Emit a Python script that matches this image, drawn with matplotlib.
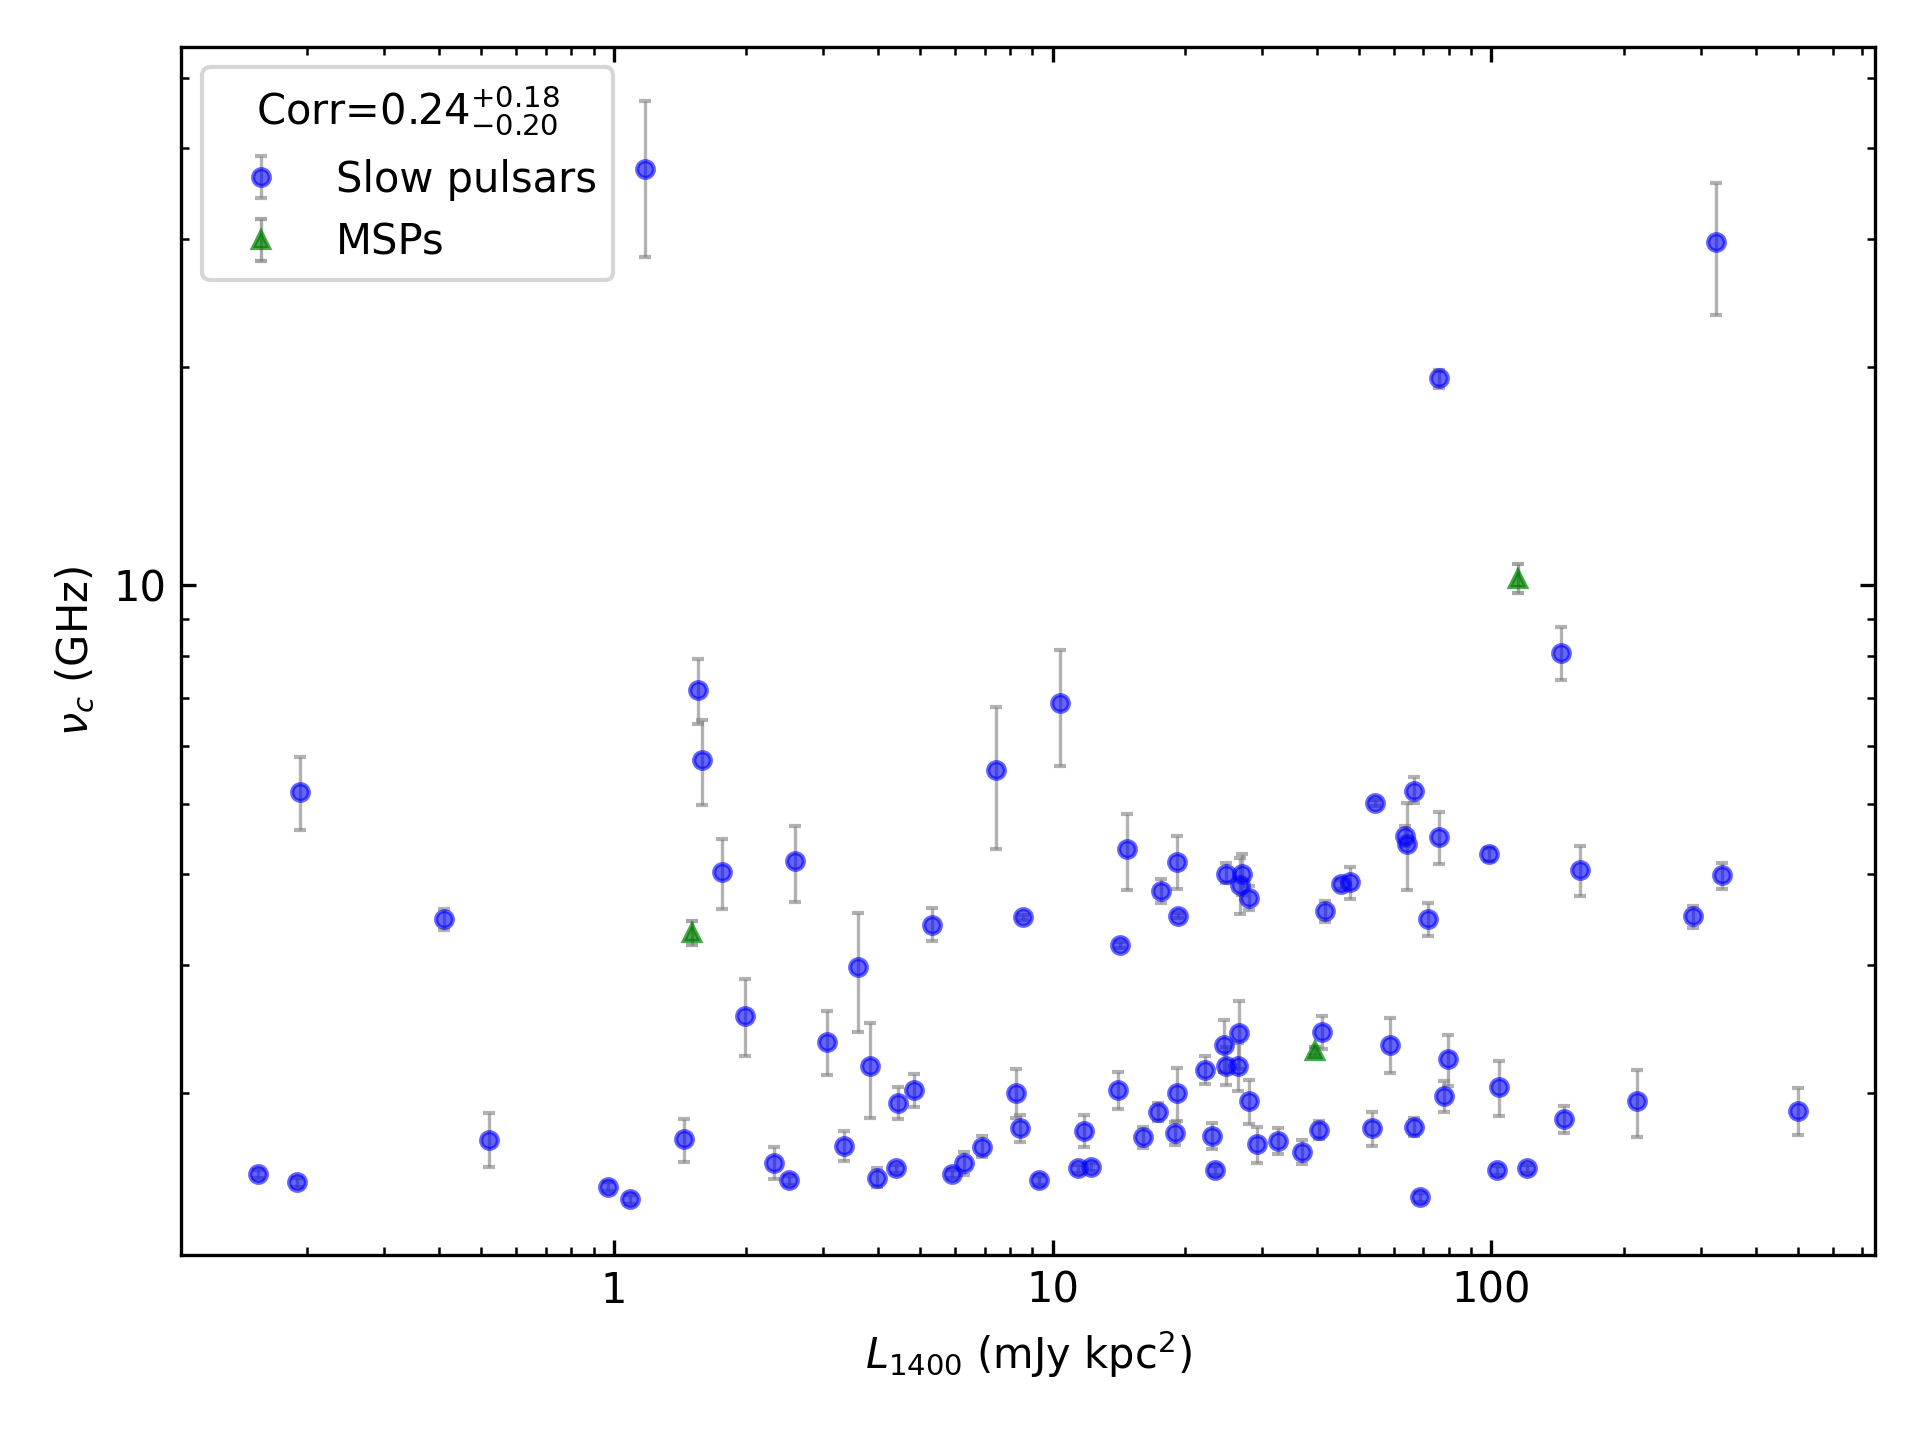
import matplotlib
matplotlib.use('Agg')
import matplotlib.pyplot as plt

# slow pulsars: luminosity (mJy kpc^2), cutoff freq (GHz), lower / upper errors
slow_L = [0.155, 0.190, 0.193, 0.410, 0.521, 0.969, 1.087, 1.176, 1.443, 1.553,
          1.594, 1.770, 1.988, 2.322, 2.513, 2.594, 3.055, 3.357, 3.613, 3.846,
          3.992, 4.407, 4.446, 4.823, 5.326, 5.904, 6.275, 6.890, 7.437, 8.269,
          8.452, 8.578, 9.330, 10.42, 11.45, 11.82, 12.26, 14.13, 14.25, 14.74,
          16.11, 17.43, 17.70, 19.26, 19.36, 19.26, 19.05, 22.29, 23.12, 23.50,
          24.90, 27.06, 26.75, 28.09, 24.64, 24.85, 26.65, 26.42, 28.09, 29.29,
          32.69, 37.07, 40.53, 41.19, 41.86, 45.41, 47.54, 53.55, 54.39, 58.85,
          63.67, 64.33, 66.73, 66.73, 68.85, 71.80, 76.06, 75.83, 79.77, 77.84,
          98.92, 103.1, 104.2, 120.7, 144.2, 146.6, 159.4, 214.8, 288.4, 325.2,
          335.6, 500.1]
slow_nu = [1.545, 1.506, 5.20, 3.47, 1.725, 1.486, 1.427, 37.4, 1.726, 7.17,
           5.75, 4.03, 2.556, 1.604, 1.516, 4.17, 2.35, 1.69, 2.98, 2.18,
           1.525, 1.574, 1.935, 2.02, 3.41, 1.545, 1.60, 1.685, 5.56, 2.00,
           1.79, 3.49, 1.516, 6.89, 1.574, 1.772, 1.580, 2.017, 3.20, 4.33,
           1.737, 1.883, 3.80, 4.16, 3.508, 2.00, 1.76, 2.15, 1.742, 1.564,
           4.01, 4.00, 3.87, 3.71, 2.325, 2.18, 2.415, 2.18, 1.947, 1.70,
           1.715, 1.656, 1.778, 2.43, 3.56, 3.874, 3.90, 1.79, 5.01, 2.33,
           4.52, 4.41, 5.21, 1.796, 1.436, 3.47, 4.50, 19.27, 2.225, 1.98,
           4.264, 1.564, 2.04, 1.574, 8.06, 1.84, 4.05, 1.95, 3.50, 29.7,
           3.99, 1.89]
slow_lo = [0.02, 0.02, 0.60, 0.12, 0.146, 0.02, 0.02, 9.1, 0.117, 0.73,
           0.77, 0.45, 0.31, 0.08, 0.02, 0.51, 0.23, 0.08, 0.555, 0.33,
           0.04, 0.02, 0.096, 0.106, 0.175, 0.02, 0.06, 0.053, 1.22, 0.155,
           0.078, 0.03, 0.02, 1.25, 0.02, 0.087, 0.02, 0.119, 0.03, 0.52,
           0.057, 0.052, 0.142, 0.34, 0.03, 0.17, 0.066, 0.093, 0.068, 0.02,
           0.122, 0.25, 0.34, 0.14, 0.19, 0.13, 0.26, 0.165, 0.137, 0.097,
           0.067, 0.061, 0.05, 0.13, 0.12, 0.06, 0.20, 0.10, 0.05, 0.20,
           0.14, 0.60, 0.20, 0.05, 0.02, 0.18, 0.37, 0.59, 0.18, 0.10,
           0.09, 0.02, 0.18, 0.02, 0.66, 0.08, 0.32, 0.21, 0.13, 6.1,
           0.17, 0.14]
slow_hi = [0.02, 0.02, 0.61, 0.11, 0.15, 0.02, 0.02, 9.1, 0.113, 0.74,
           0.78, 0.45, 0.31, 0.08, 0.02, 0.49, 0.24, 0.08, 0.56, 0.32,
           0.05, 0.02, 0.10, 0.105, 0.18, 0.02, 0.06, 0.06, 1.23, 0.16,
           0.077, 0.03, 0.02, 1.25, 0.02, 0.09, 0.02, 0.117, 0.03, 0.51,
           0.056, 0.052, 0.147, 0.35, 0.03, 0.165, 0.065, 0.10, 0.074, 0.02,
           0.134, 0.27, 0.34, 0.14, 0.195, 0.13, 0.26, 0.165, 0.14, 0.094,
           0.073, 0.066, 0.05, 0.12, 0.12, 0.06, 0.20, 0.09, 0.05, 0.21,
           0.14, 0.60, 0.23, 0.05, 0.02, 0.18, 0.37, 0.53, 0.18, 0.10,
           0.09, 0.02, 0.17, 0.02, 0.70, 0.08, 0.32, 0.20, 0.12, 6.1,
           0.15, 0.14]

# millisecond pulsars
msp_L = [1.508, 39.63, 115.0]
msp_nu = [3.32, 2.284, 10.21]
msp_lo = [0.12, 0.03, 0.46]
msp_hi = [0.13, 0.03, 0.48]

corr_title = r'Corr=0.24$^{+0.18}_{-0.20}$'

fig = plt.figure(figsize=(6.4, 4.8), dpi=300)
ax = fig.add_axes([0.0945, 0.1284, 0.8819, 0.8393])

ax.errorbar(slow_L, slow_nu, yerr=[slow_lo, slow_hi], fmt='o', color='blue',
            ecolor='gray', elinewidth=0.8, capsize=1.5, markersize=4,
            alpha=0.6, label='Slow pulsars')
ax.errorbar(msp_L, msp_nu, yerr=[msp_lo, msp_hi], fmt='^', color='green',
            ecolor='gray', elinewidth=0.8, capsize=1.5, markersize=4,
            alpha=0.7, label='MSPs')

ax.set_xscale('log')
ax.set_yscale('log')
ax.set_xlim(0.1036, 746.6)
ax.set_ylim(1.196, 55.2)
ax.set_xticks([1, 10, 100])
ax.set_xticklabels(['1', '10', '100'])
ax.set_yticks([10])
ax.set_yticklabels(['10'])
ax.tick_params(which='both', direction='in', top=True, right=True)

ax.set_xlabel(r'$L_{1400}$ (mJy kpc$^2$)')
ax.set_ylabel(r'$\nu_c$ (GHz)')
ax.legend(title=corr_title, loc='upper left', title_fontsize=10)

plt.savefig('out.png', dpi=300)
